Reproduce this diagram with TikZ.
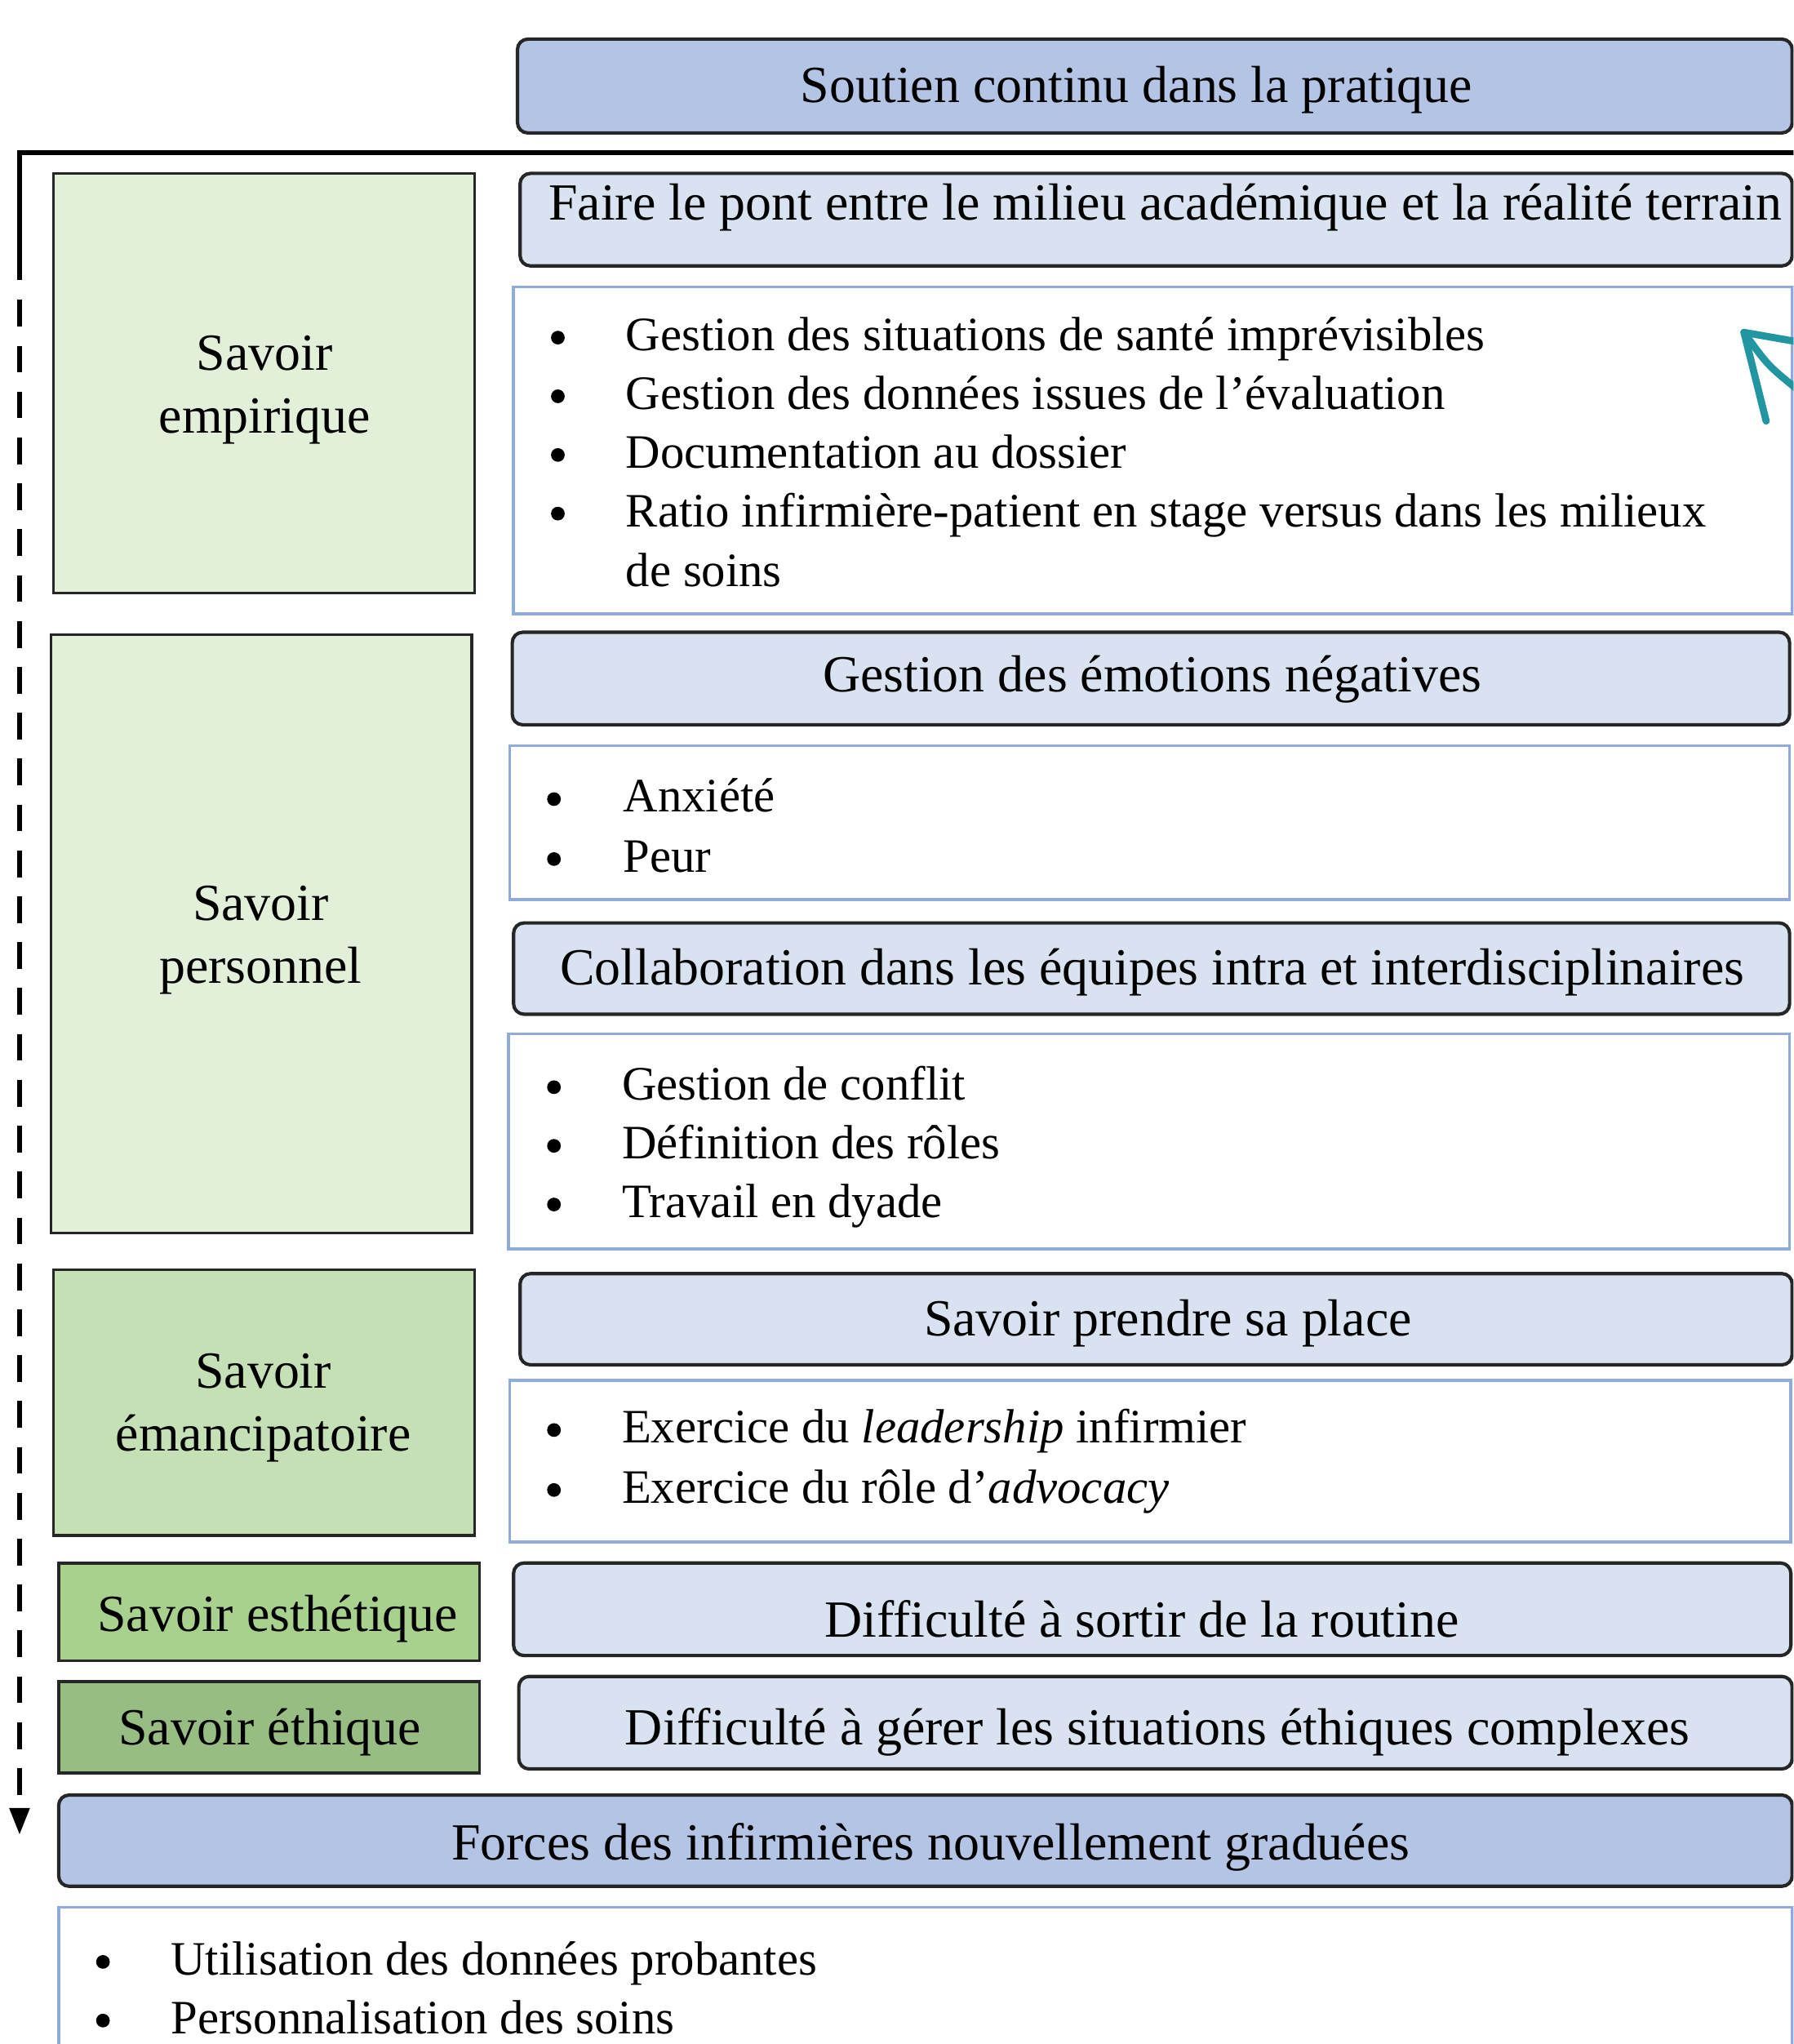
\documentclass[tikz,border=0pt]{standalone}
\usepackage{fontspec}
\setmainfont{Liberation Serif}
\definecolor{bluemed}{HTML}{B4C4E5}
\definecolor{bluelight}{HTML}{D9E2F1}
\definecolor{greenlight}{HTML}{E2EFD9}
\definecolor{greenmid}{HTML}{C5E0B4}
\definecolor{greenesth}{HTML}{A9D18E}
\definecolor{greeneth}{HTML}{98BD82}
\definecolor{bordblue}{HTML}{8FAADC}
\definecolor{tealarrow}{HTML}{2196A0}
\definecolor{edgedark}{HTML}{262626}
\tikzset{
  hbox/.style={draw=edgedark, line width=2.6pt, rounded corners=8pt, fill=bluelight, anchor=north west, inner sep=0pt, outer sep=0pt},
  kbox/.style={draw=edgedark, line width=2.2pt, anchor=north west, inner sep=0pt, outer sep=0pt},
  lbox/.style={draw=bordblue, line width=2.2pt, fill=white, anchor=north west, inner sep=0pt, outer sep=0pt},
  htext/.style={font=\fontsize{40}{48}\selectfont, inner sep=0pt, align=center},
  btext/.style={font=\fontsize{36.8}{45.2}\selectfont, inner sep=0pt, anchor=base west},
  bdot/.style={circle, fill=black, inner sep=0pt, minimum size=10.5pt},
  tealline/.style={draw=tealarrow, line width=5.5pt, line cap=round, line join=round},
}
\begin{document}
\begin{tikzpicture}[x=1pt,y=-1pt]
\useasboundingbox (0,0) rectangle (1376,1568);
\clip (0,0) rectangle (1376,1568);

% ---- header and blue boxes
\node[hbox, fill=bluemed, minimum width=978, minimum height=72] (soutienB) at (397,30) {};
\node[htext] (soutienT) at (872,69) {Soutien continu dans la pratique};

\node[hbox, minimum width=976, minimum height=71] (faireB) at (399,133) {};
\node[htext] (faireT) at (894,159) {Faire le pont entre le milieu académique et la réalité terrain};

\node[lbox, minimum width=981, minimum height=251] (list1) at (394,220) {};

\node[hbox, minimum width=980, minimum height=71] (gestB) at (393,485) {};
\node[htext] (gestT) at (884,521) {Gestion des émotions négatives};

\node[lbox, minimum width=982, minimum height=118] (list2) at (391,572) {};

\node[hbox, minimum width=979, minimum height=70] (collabB) at (394,708) {};
\node[htext] (collabT) at (884,746) {Collaboration dans les équipes intra et interdisciplinaires};

\node[lbox, minimum width=983, minimum height=165] (list3) at (390,793) {};

\node[hbox, minimum width=976, minimum height=70] (prendreB) at (399,977) {};
\node[htext] (prendreT) at (896,1015) {Savoir prendre sa place};

\node[lbox, minimum width=983, minimum height=124] (list4) at (391,1059) {};

\node[hbox, minimum width=980, minimum height=71] (routineB) at (394,1199) {};
\node[htext] (routineT) at (876,1242) {Difficulté à sortir de la routine};

\node[hbox, minimum width=977, minimum height=71] (ethiqB) at (398,1286) {};
\node[htext] (ethiqT) at (888,1329) {Difficulté à gérer les situations éthiques complexes};

\node[hbox, fill=bluemed, minimum width=1330, minimum height=70] (forcesB) at (45,1377) {};
\node[htext] (forcesT) at (714,1417) {Forces des infirmières nouvellement graduées};

\node[lbox, minimum width=1330, minimum height=150] (list5) at (45,1463) {};

% ---- green knowledge boxes
\node[kbox, fill=greenlight, minimum width=323, minimum height=322] (empB) at (41,133) {};
\node[htext] (empT) at (203,299) {Savoir\\empirique};

\node[kbox, fill=greenlight, minimum width=323, minimum height=459] (persB) at (39,487) {};
\node[htext] (persT) at (200,721) {Savoir\\personnel};

\node[kbox, fill=greenmid, minimum width=323, minimum height=204] (emanB) at (41,974) {};
\node[htext] (emanT) at (202,1080) {Savoir\\émancipatoire};

\node[kbox, fill=greenesth, minimum width=323, minimum height=75] (esthB) at (45,1199) {};
\node[htext] (esthT) at (213,1242) {Savoir esthétique};

\node[kbox, fill=greeneth, minimum width=323, minimum height=70] (ethB) at (45,1290) {};
\node[htext] (ethT) at (207,1329) {Savoir éthique};

% ---- bullet lists
\node[bdot] (b11) at (428,259) {};
\node[btext] (t11) at (480,269) {Gestion des situations de santé imprévisibles};
\node[bdot] (b12) at (428,304) {};
\node[btext] (t12) at (480,314) {Gestion des données issues de l’évaluation};
\node[bdot] (b13) at (428,349) {};
\node[btext] (t13) at (480,359) {Documentation au dossier};
\node[bdot] (b14) at (428,394) {};
\node[btext] (t14) at (480,404) {Ratio infirmière-patient en stage versus dans les milieux};
\node[btext] (t15) at (480,450) {de soins};

\node[bdot] (b21) at (425,613) {};
\node[btext] (t21) at (478,623) {Anxiété};
\node[bdot] (b22) at (425,659) {};
\node[btext] (t22) at (478,669) {Peur};

\node[bdot] (b31) at (425,834) {};
\node[btext] (t31) at (477,844) {Gestion de conflit};
\node[bdot] (b32) at (425,879) {};
\node[btext] (t32) at (477,889) {Définition des rôles};
\node[bdot] (b33) at (425,924) {};
\node[btext] (t33) at (477,934) {Travail en dyade};

\node[bdot] (b41) at (425,1097) {};
\node[btext] (t41) at (477,1107) {Exercice du \textit{leadership} infirmier};
\node[bdot] (b42) at (425,1143) {};
\node[btext] (t42) at (477,1153) {Exercice du rôle d’\textit{advocacy}};

\node[bdot] (b51) at (79,1505) {};
\node[btext] (t51) at (131,1515) {Utilisation des données probantes};
\node[bdot] (b52) at (79,1550) {};
\node[btext] (t52) at (131,1560) {Personnalisation des soins};

% ---- bracket with dashed downward arrow
\coordinate (bkR) at (1380,117);
\coordinate (bkC) at (15,117);
\coordinate (bkS) at (15,215);
\coordinate (dashTop) at (15,230);
\coordinate (dashEnd) at (15,1377);
\coordinate (tipL) at (7,1387);
\coordinate (tipR) at (23,1387);
\coordinate (tipB) at (15,1407);
\draw[line width=3.6pt, line cap=butt] (bkR) -- (bkC) -- (bkS);
\draw[line width=3.8pt, dash pattern=on 20.5pt off 14.7pt] (dashTop) -- (dashEnd);
\fill (tipL) -- (tipR) -- (tipB) -- cycle;

% ---- teal hand-drawn arrow
\coordinate (tealTip) at (1338,255);
\coordinate (tealBarbA) at (1378,262);
\coordinate (tealBarbB) at (1355,323);
\coordinate (tealEnd) at (1378,298);
\draw[tealline] (tealBarbA) -- (tealTip) -- (tealBarbB);
\draw[tealline] (tealTip) .. controls (1356,280) .. (tealEnd);
\end{tikzpicture}
\end{document}
